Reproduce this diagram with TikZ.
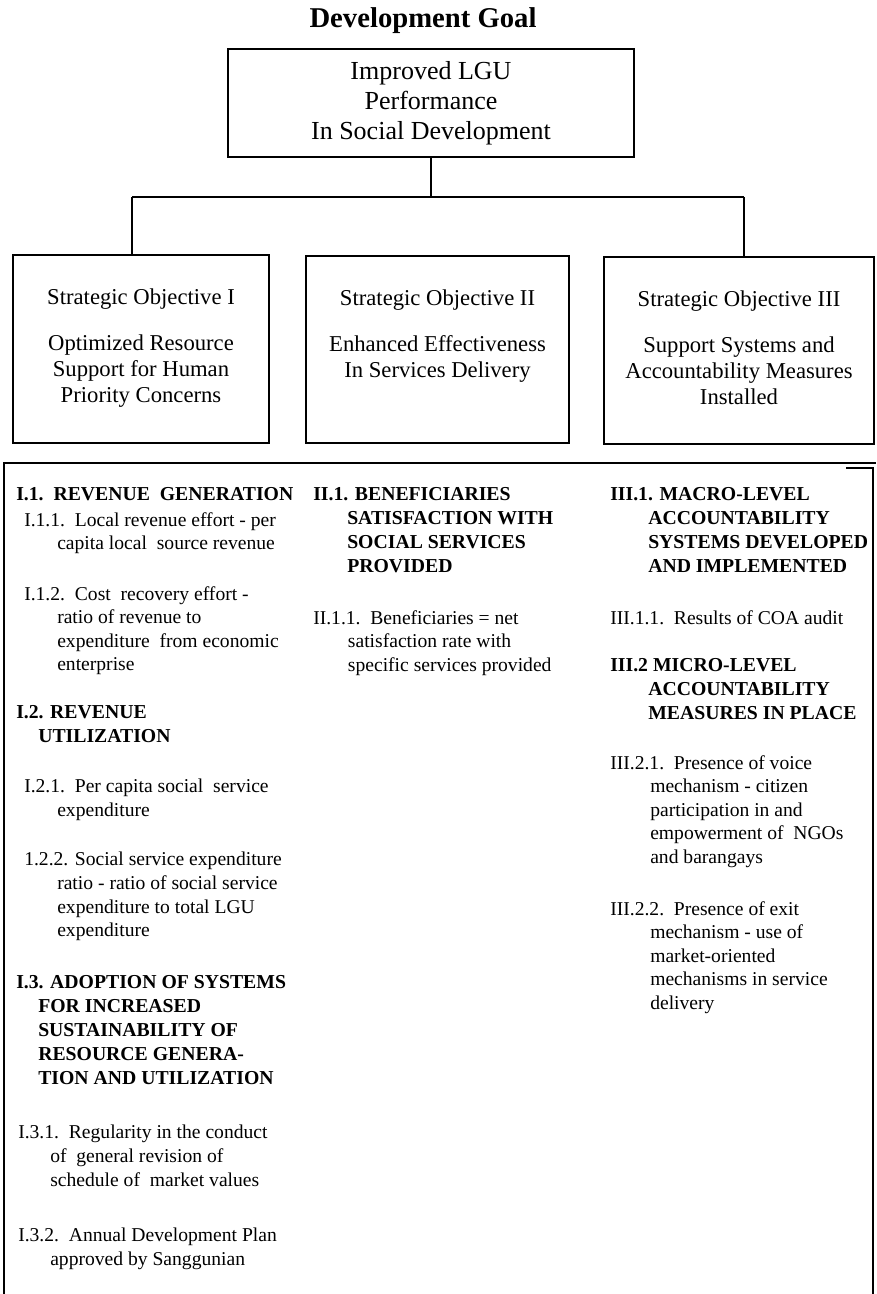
\documentclass[tikz,border=0pt]{standalone}
\usepackage{fontspec}
\setmainfont{Liberation Serif}
\usepackage{tikz}
\usetikzlibrary{positioning}

\tikzset{
  goalbox/.style={draw,line width=1.1pt,inner sep=0pt,minimum width=304.5pt,minimum height=81pt,align=center,font=\fontsize{19.5}{22.5}\selectfont},
  sobox/.style={draw,line width=1.1pt,inner sep=0pt},
  sotext/.style={inner sep=0pt,align=center,font=\fontsize{17}{19.5}\selectfont},
  headtxt/.style={anchor=north west,inner sep=0pt,align=left,font=\fontsize{14.8}{18}\selectfont\bfseries},
  itemtxt/.style={anchor=north west,inner sep=0pt,align=left,font=\fontsize{14.7}{17.7}\selectfont},
  link/.style={line width=1.1pt},
  bus/.style={line width=1.6pt},
  frame/.style={line width=1.1pt}
}

\begin{document}
\begin{tikzpicture}[x=0.75pt,y=0.75pt,yscale=-1,xscale=1]
\useasboundingbox (0,0) rectangle (876,1294);
% Title
\node[inner sep=0pt,font=\fontsize{21.5}{24}\selectfont\bfseries] (title) at (423,21) {Development Goal};
% Goal box
\node[goalbox] (goal) at (431,103) {Improved LGU\\Performance\\In Social Development};
% Strategic objective boxes
\node[sobox,minimum width=192pt,minimum height=141pt] (soI) at (141,349) {};
\node[sobox,minimum width=197.25pt,minimum height=140.25pt] (soII) at (437.5,349.5) {};
\node[sobox,minimum width=202.5pt,minimum height=140.25pt] (soIII) at (739,350.5) {};
\node[sotext,below=25.5pt of soI.north] (soItxt) {Strategic Objective I\\[15pt]Optimized Resource\\Support for Human\\Priority Concerns};
\node[sotext,below=25.5pt of soII.north] (soIItxt) {Strategic Objective II\\[15pt]Enhanced Effectiveness\\In Services Delivery};
\node[sotext,below=25.5pt of soIII.north] (soIIItxt) {Strategic Objective III\\[15pt]Support Systems and\\Accountability Measures\\Installed};
% Connectors
\coordinate (busL) at (132,197);
\coordinate (busR) at (744,197);
\draw[link] (goal.south) -- (goal.south |- busL);
\draw[bus] (busL) -- (busR);
\draw[link] (busL) -- (busL |- soI.north);
\draw[link] (busR) -- (busR |- soIII.north);
% Indicator frame
\draw[frame] (4,1294) -- (4,463) -- (876,463);
\draw[frame] (846,468) -- (873,468) -- (873,1294);
% Column I
\node[headtxt] (h11) at (16,487) {I.1.\ \ REVENUE\ \ GENERATION};
\node[itemtxt] (i111) at (24,512) {I.1.1.\ \ Local revenue effort - per\\\hspace*{24.75pt}capita local\ \ source revenue};
\node[itemtxt] (i112) at (24,586) {I.1.2.\ \ Cost\ \ recovery effort -\\\hspace*{24.75pt}ratio of revenue to\\\hspace*{24.75pt}expenditure\ \ from economic\\\hspace*{24.75pt}enterprise};
\node[headtxt] (h12) at (16,705) {I.2. REVENUE\\\hspace*{16.5pt}UTILIZATION};
\node[itemtxt] (i121) at (24,779) {I.2.1.\ \ Per capita social\ \ service\\\hspace*{24.75pt}expenditure};
\node[itemtxt] (i122) at (24,852) {1.2.2. Social service expenditure\\\hspace*{24.75pt}ratio - ratio of social service\\\hspace*{24.75pt}expenditure to total LGU\\\hspace*{24.75pt}expenditure};
\node[headtxt] (h13) at (16,975) {I.3. ADOPTION OF SYSTEMS\\\hspace*{16.5pt}FOR INCREASED\\\hspace*{16.5pt}SUSTAINABILITY OF\\\hspace*{16.5pt}RESOURCE GENERA-\\\hspace*{16.5pt}TION AND UTILIZATION};
\node[itemtxt] (i131) at (18,1125) {I.3.1.\ \ Regularity in the conduct\\\hspace*{24pt}of\ \ general revision of\\\hspace*{24pt}schedule of\ \ market values};
\node[itemtxt] (i132) at (18,1228) {I.3.2.\ \ Annual Development Plan\\\hspace*{24pt}approved by Sanggunian};
% Column II
\node[headtxt] (h21) at (313,487) {II.1. BENEFICIARIES\\\hspace*{25.5pt}SATISFACTION WITH\\\hspace*{25.5pt}SOCIAL SERVICES\\\hspace*{25.5pt}PROVIDED};
\node[itemtxt] (i211) at (313,610) {II.1.1.\ \ Beneficiaries = net\\\hspace*{26pt}satisfaction rate with\\\hspace*{26pt}specific services provided};
% Column III
\node[headtxt] (h31) at (610,487) {III.1. MACRO-LEVEL\\\hspace*{28.5pt}ACCOUNTABILITY\\\hspace*{28.5pt}SYSTEMS DEVELOPED\\\hspace*{28.5pt}AND IMPLEMENTED};
\node[itemtxt] (i311) at (610,610) {III.1.1.\ \ Results of COA audit};
\node[headtxt] (h32) at (610,658) {III.2 MICRO-LEVEL\\\hspace*{28.5pt}ACCOUNTABILITY\\\hspace*{28.5pt}MEASURES IN PLACE};
\node[itemtxt] (i321) at (610,755) {III.2.1.\ \ Presence of voice\\\hspace*{30pt}mechanism - citizen\\\hspace*{30pt}participation in and\\\hspace*{30pt}empowerment of\ \ NGOs\\\hspace*{30pt}and barangays};
\node[itemtxt] (i322) at (610,901) {III.2.2.\ \ Presence of exit\\\hspace*{30pt}mechanism - use of\\\hspace*{30pt}market-oriented\\\hspace*{30pt}mechanisms in service\\\hspace*{30pt}delivery};
\end{tikzpicture}
\end{document}
